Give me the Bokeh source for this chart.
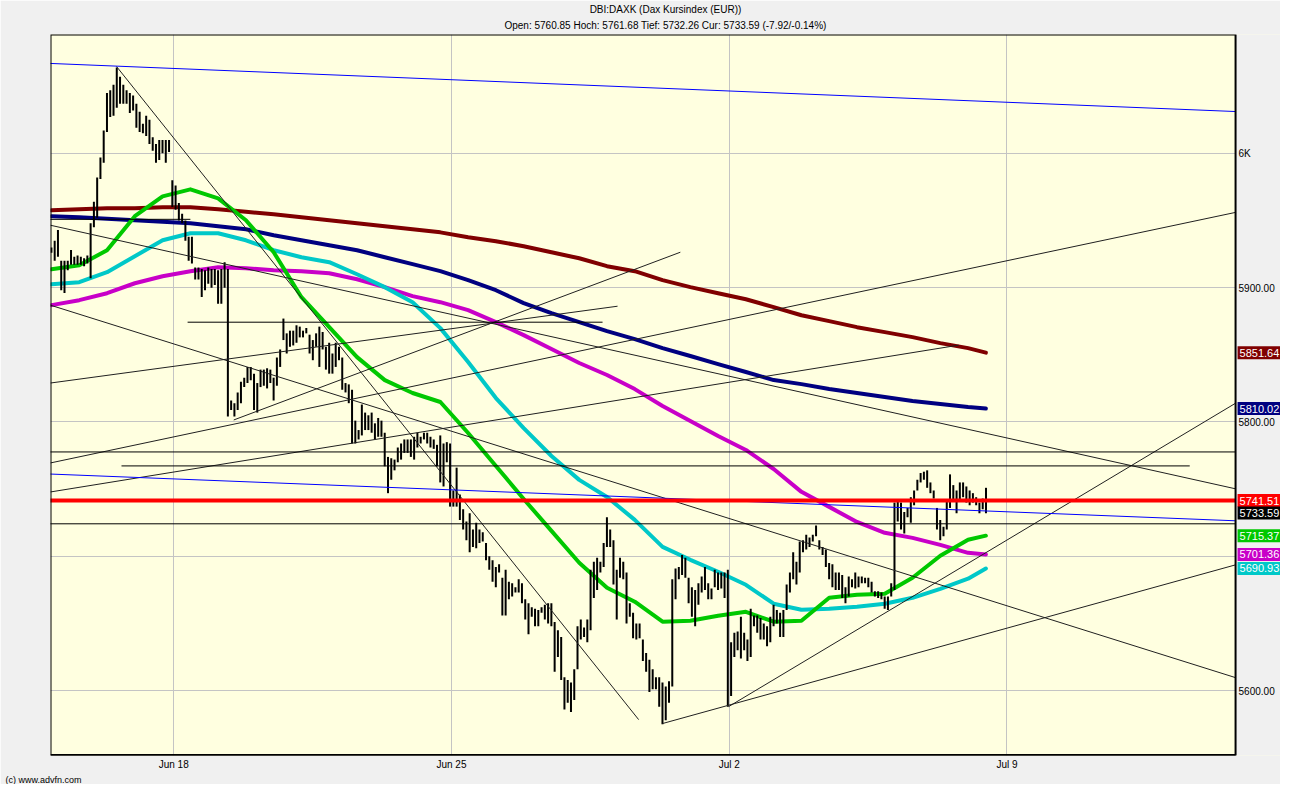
from bokeh.plotting import figure
from bokeh.models import Range1d, FixedTicker, ColumnDataSource, Title
from bokeh.core.properties import value
from bokeh.embed import file_html
from bokeh.resources import INLINE

FONT = "Liberation Sans"

# ---------------- texts ----------------
title_line_1 = "DBI:DAXK (Dax Kursindex (EUR))"
title_line_2 = "Open: 5760.85 Hoch: 5761.68 Tief: 5732.26 Cur: 5733.59 (-7.92/-0.14%)"
footer_text = "(c) www.advfn.com"

# x axis = trading days, 0 = Mon Jun 18 2012
date_ticks = [0, 5, 10, 15]
date_labels = ["Jun 18", "Jun 25", "Jul 2", "Jul 9"]
price_ticks = [5600, 5700, 5800, 5900, 6000]
price_labels = ["5600.00", "5700.00", "5800.00", "5900.00", "6K"]

# ---------------- 30-minute bars (17 per session) ----------------
bars_per_day = 17
session_day = [-3, -2, -1, 0, 1, 2, 3, 4, 5, 6, 7, 8, 9, 10, 11, 12, 13, 14]
session_first_slot = [14, 0, 0, 0, 0, 0, 0, 0, 0, 0, 0, 0, 0, 0, 0, 0, 0, 0]

bar_high = [
    [5930, 5935, 5943],
    [5920, 5920, 5920, 5928, 5923, 5924, 5923, 5922, 5924, 5948, 5964, 5982, 5997, 6017, 6045, 6047, 6051],
    [6064, 6057, 6051, 6047, 6045, 6043, 6037, 6031, 6022, 6028, 6025, 6012, 6007, 6010, 6010, 6010, 6010],
    [5980, 5976, 5963, 5955, 5950, 5938, 5938, 5915, 5915, 5914, 5913, 5915, 5914, 5914, 5913, 5914, 5919],
    [5914, 5816, 5814, 5822, 5830, 5833, 5841, 5841, 5836, 5829, 5839, 5839, 5840, 5839, 5833, 5848, 5854],
    [5877, 5866, 5868, 5868, 5872, 5871, 5868, 5870, 5865, 5861, 5866, 5871, 5867, 5856, 5859, 5851, 5859],
    [5856, 5848, 5829, 5828, 5824, 5801, 5794, 5813, 5807, 5805, 5807, 5799, 5803, 5801, 5792, 5774, 5773],
    [5772, 5781, 5784, 5787, 5787, 5787, 5789, 5792, 5789, 5792, 5792, 5789, 5787, 5783, 5790, 5784, 5785],
    [5784, 5749, 5766, 5746, 5735, 5726, 5732, 5720, 5725, 5720, 5718, 5710, 5700, 5697, 5692, 5694, 5684],
    [5690, 5681, 5680, 5677, 5683, 5680, 5668, 5665, 5662, 5661, 5660, 5662, 5664, 5665, 5665, 5651, 5645],
    [5640, 5610, 5608, 5606, 5616, 5648, 5653, 5647, 5653, 5690, 5696, 5699, 5696, 5710, 5729, 5720, 5712],
    [5690, 5699, 5696, 5688, 5665, 5658, 5650, 5650, 5638, 5628, 5623, 5616, 5610, 5610, 5606, 5603, 5607],
    [5683, 5691, 5692, 5701, 5699, 5684, 5677, 5675, 5680, 5685, 5692, 5680, 5676, 5690, 5688, 5688, 5688],
    [5690, 5636, 5643, 5644, 5655, 5643, 5638, 5661, 5656, 5656, 5654, 5650, 5648, 5655, 5664, 5660, 5658],
    [5660, 5679, 5688, 5703, 5696, 5711, 5712, 5716, 5714, 5716, 5723, 5712, 5707, 5705, 5695, 5694, 5688],
    [5688, 5686, 5677, 5685, 5683, 5688, 5685, 5685, 5684, 5684, 5681, 5674, 5674, 5673, 5670, 5670, 5680],
    [5740, 5742, 5740, 5733, 5736, 5744, 5749, 5757, 5762, 5763, 5764, 5755, 5749, 5736, 5727, 5722, 5741],
    [5761, 5753, 5749, 5755, 5755, 5752, 5749, 5747, 5744, 5740, 5743, 5751],
]
bar_low = [
    [5926, 5920, 5923],
    [5898, 5896, 5913, 5917, 5917, 5917, 5917, 5916, 5918, 5907, 5945, 5952, 5981, 5993, 6016, 6027, 6028],
    [6034, 6037, 6037, 6037, 6030, 6032, 6019, 6016, 6015, 6013, 6007, 6002, 5993, 5995, 6000, 5993, 6001],
    [5960, 5958, 5950, 5948, 5935, 5920, 5918, 5906, 5906, 5893, 5898, 5903, 5900, 5902, 5888, 5888, 5900],
    [5804, 5809, 5804, 5809, 5814, 5826, 5829, 5831, 5809, 5807, 5826, 5827, 5825, 5829, 5816, 5827, 5841],
    [5861, 5851, 5856, 5857, 5859, 5863, 5863, 5866, 5851, 5846, 5856, 5841, 5854, 5839, 5836, 5836, 5841],
    [5846, 5824, 5822, 5814, 5784, 5784, 5787, 5790, 5794, 5794, 5792, 5787, 5789, 5789, 5767, 5747, 5757],
    [5764, 5770, 5772, 5777, 5777, 5774, 5772, 5781, 5784, 5787, 5784, 5781, 5780, 5767, 5755, 5752, 5770],
    [5737, 5737, 5737, 5727, 5720, 5712, 5703, 5707, 5706, 5710, 5711, 5697, 5690, 5681, 5677, 5688, 5656],
    [5656, 5668, 5670, 5673, 5673, 5665, 5653, 5642, 5655, 5648, 5648, 5658, 5653, 5650, 5648, 5614, 5625],
    [5608, 5586, 5591, 5584, 5593, 5616, 5638, 5640, 5636, 5645, 5669, 5675, 5688, 5692, 5707, 5707, 5679],
    [5653, 5684, 5683, 5650, 5655, 5639, 5638, 5639, 5622, 5614, 5599, 5601, 5601, 5588, 5575, 5578, 5591],
    [5603, 5668, 5683, 5686, 5684, 5665, 5655, 5648, 5664, 5673, 5675, 5668, 5668, 5677, 5675, 5676, 5669],
    [5588, 5596, 5625, 5630, 5624, 5630, 5622, 5625, 5648, 5643, 5638, 5638, 5633, 5636, 5648, 5650, 5640],
    [5640, 5660, 5673, 5683, 5679, 5688, 5703, 5705, 5707, 5711, 5715, 5705, 5701, 5692, 5683, 5677, 5675],
    [5675, 5669, 5665, 5670, 5677, 5676, 5677, 5680, 5680, 5677, 5673, 5670, 5669, 5668, 5661, 5660, 5670],
    [5675, 5726, 5720, 5717, 5729, 5725, 5738, 5749, 5755, 5757, 5751, 5747, 5743, 5720, 5712, 5715, 5720],
    [5736, 5741, 5732, 5742, 5744, 5740, 5738, 5740, 5738, 5732, 5735, 5732],
]

# ---------------- moving averages (sampled along the time axis) ----------------
ma_t = [-2.2, -1.7, -1.2, -0.7, -0.2, 0.3, 0.8, 1.3, 1.8, 2.3, 2.8, 3.3, 3.8, 4.3, 4.8, 5.3, 5.8,
        6.3, 6.8, 7.3, 7.8, 8.3, 8.8, 9.3, 9.8, 10.3, 10.8, 11.3, 11.8, 12.3, 12.8, 13.3, 13.8, 14.3, 14.62]
ma_green = [5913.7, 5916.7, 5927.9, 5953.2, 5968.0, 5973.2, 5966.5, 5950.2, 5926.4, 5892.9, 5870.6, 5848.3,
            5831.2, 5821.6, 5814.9, 5791.8, 5767.3, 5742.7, 5718.9, 5695.2, 5676.6, 5666.2, 5651.3, 5652.0,
            5655.8, 5658.7, 5651.3, 5652.0, 5669.1, 5671.4, 5672.1, 5684.0, 5700.4, 5712.3, 5715.37]
ma_cyan = [5902.6, 5904.1, 5911.5, 5923.4, 5935.3, 5940.5, 5940.5, 5935.3, 5927.9, 5922.7, 5919.0, 5910.0,
           5900.4, 5889.2, 5869.9, 5844.6, 5817.8, 5795.5, 5774.7, 5756.9, 5744.2, 5727.1, 5707.0, 5697.4,
           5688.5, 5678.8, 5664.7, 5660.2, 5661.0, 5662.5, 5664.7, 5669.1, 5675.8, 5683.3, 5690.93]
ma_magenta = [5887.0, 5890.7, 5895.9, 5903.3, 5908.5, 5912.3, 5915.2, 5914.5, 5913.0, 5912.3, 5910.8, 5906.3,
              5900.4, 5893.7, 5889.2, 5883.3, 5874.4, 5864.7, 5854.3, 5843.9, 5835.0, 5824.5, 5811.9, 5800.7,
              5789.6, 5779.2, 5765.0, 5748.0, 5736.8, 5725.6, 5717.5, 5713.7, 5708.5, 5702.6, 5701.36]
ma_navy = [5953.2, 5952.4, 5951.3, 5950.2, 5949.1, 5948.0, 5945.7, 5943.5, 5939.0, 5935.3, 5931.6, 5927.9,
           5922.7, 5917.5, 5912.3, 5905.6, 5898.1, 5888.5, 5881.0, 5874.4, 5867.6, 5861.7, 5855.0, 5849.1,
           5843.1, 5837.2, 5831.2, 5828.2, 5824.5, 5821.6, 5818.6, 5815.6, 5813.4, 5811.1, 5810.02]
ma_darkred = [5957.6, 5958.4, 5959.1, 5959.1, 5959.8, 5959.8, 5958.4, 5956.5, 5954.6, 5952.4, 5950.2, 5948.0,
              5945.7, 5943.5, 5941.2, 5937.5, 5934.6, 5930.9, 5926.4, 5921.9, 5916.0, 5912.3, 5905.6, 5900.4,
              5895.9, 5891.4, 5885.5, 5879.5, 5875.1, 5870.6, 5866.9, 5863.2, 5858.7, 5855.0, 5851.64]

# ---------------- drawn studies: (day0, price0, day1, price1) ----------------
blue_lines = [(-2.25, 6067.0, 19.2, 6031.0), (-2.25, 5761.3, 19.2, 5726.3)]
level_lines = [(-2.25, 5777.7, 19.2, 5777.7), (-0.94, 5767.3, 18.29, 5767.3), (-2.25, 5724.2, 19.2, 5724.2),
               (0.25, 5874.3, 7.72, 5874.3), (-2.25, 5950.9, 0.30, 5950.9)]
trend_lines = [(-1.03, 6064.7, 8.37, 5578.4), (-2.22, 5946.5, 19.12, 5750.2), (-2.22, 5887.0, 19.12, 5609.6),
               (-2.22, 5829.0, 7.99, 5886.2), (-2.22, 5769.5, 19.12, 5956.1), (-2.22, 5747.9, 14.13, 5857.2),
               (1.08, 5801.5, 9.12, 5926.4), (8.80, 5575.5, 19.12, 5693.7), (9.99, 5588.1, 19.12, 5814.1)]
resistance_level = 5741.51

# right-hand value boxes: (value, colour)
value_boxes = [(5851.64, "#800000"), (5810.02, "#000080"), (5741.51, "#FF0000"), (5733.59, "#000000"),
               (5715.37, "#00C800"), (5701.36, "#C800C8"), (5690.93, "#00C8C8")]

# ---------------- figure ----------------
X0, X1 = -2.218, 19.924        # frame: chart area + value column on the right
AREA_END = 19.115              # right edge of the yellow chart area
Y1 = 6088.5
PX_Y = 1.345                   # pixels per index point
FRAME_W, FRAME_H = 1230, 722
Y0 = Y1 - FRAME_H / PX_Y
PX_X = FRAME_W / (X1 - X0)

p = figure(width=1280, height=784, output_backend="svg", toolbar_location=None,
           x_range=Range1d(X0, X1), y_range=Range1d(Y0, Y1), y_axis_location=None,
           min_border_left=50, min_border_right=0, min_border_top=34, min_border_bottom=28,
           background_fill_color="#FFFFE0", border_fill_color="#F0F0F0", title=None)
p.outline_line_color = None

p.xaxis.ticker = FixedTicker(ticks=date_ticks)
p.xaxis.major_label_overrides = {t: l for t, l in zip(date_ticks, date_labels)}
ax = p.xaxis[0]
ax.axis_line_color = None
ax.major_tick_line_color = None
ax.minor_tick_line_color = None
ax.major_tick_out = 0
ax.major_tick_in = 0
ax.major_label_text_font = FONT
ax.major_label_text_font_size = "10px"
ax.major_label_text_color = "#000000"
ax.major_label_standoff = 3
p.ygrid.ticker = FixedTicker(ticks=price_ticks)
for g in (p.xgrid[0], p.ygrid[0]):
    g.grid_line_color = "#C4C4C4"
    g.grid_line_width = 1

# titles (first added sits next to the frame) and footer
p.add_layout(Title(text=title_line_2, align="center", offset=-17, standoff=7, text_font=FONT,
                   text_font_size="10px", text_font_style="normal", text_color="black"), "above")
p.add_layout(Title(text=title_line_1, align="center", offset=-17, standoff=0, text_font=FONT,
                   text_font_size="10px", text_font_style="normal", text_color="black"), "above")
p.add_layout(Title(text=footer_text, align="left", offset=-45, standoff=0, text_font=FONT,
                   text_font_size="9px", text_font_style="normal", text_color="black"), "below")

# moving averages
for vals, col in [(ma_darkred, "#800000"), (ma_navy, "#000080"), (ma_magenta, "#C800C8"),
                  (ma_cyan, "#00C8C8"), (ma_green, "#00C800")]:
    p.line(ma_t, vals, line_color=col, line_width=4, line_join="round", line_cap="round")

# bars
bx, bh, bl = [], [], []
for day, slot0, hs, ls in zip(session_day, session_first_slot, bar_high, bar_low):
    for k, (h, l) in enumerate(zip(hs, ls)):
        bx.append(day + (slot0 + k) / bars_per_day - 0.025)
        bh.append(h)
        bl.append(l)
p.segment(x0=bx, y0=bl, x1=bx, y1=bh, line_color="black", line_width=2)

# drawn studies
def seg_source(items):
    return ColumnDataSource(dict(x0=[a[0] for a in items], y0=[a[1] for a in items],
                                 x1=[a[2] for a in items], y1=[a[3] for a in items]))

p.segment("x0", "y0", "x1", "y1", source=seg_source(trend_lines), line_color="#202020", line_width=1)
p.segment("x0", "y0", "x1", "y1", source=seg_source(level_lines), line_color="#000000", line_width=1)
p.segment("x0", "y0", "x1", "y1", source=seg_source(blue_lines), line_color="#0000FF", line_width=1)
p.segment(x0=[X0 - 1], y0=[resistance_level], x1=[X1 + 1], y1=[resistance_level],
          line_color="#FF0000", line_width=4)

# value column (grey) and chart-area border
p.quad(left=[AREA_END], right=[X1 + 1], bottom=[Y0 - 50], top=[Y1 + 50],
       fill_color="#F0F0F0", line_color=None)
p.quad(left=[X0], right=[AREA_END], bottom=[Y0], top=[Y1],
       fill_color=None, line_color="black", line_width=2)
p.segment(x0=[X0], y0=[Y0], x1=[AREA_END], y1=[Y0], line_color="black", line_width=3)

# price scale labels
p.text(x=[AREA_END + 3 / PX_X] * len(price_ticks), y=price_ticks, text=price_labels,
       text_font=value(FONT), text_font_size="10px", text_color="black",
       text_align="left", text_baseline="middle")

# value boxes, pushed apart when they would overlap
bx_y, bx_col, bx_txt = [], [], []
last_py = None
for val, col in sorted(value_boxes, key=lambda v: -v[0]):
    py = (Y1 - val) * PX_Y
    if last_py is not None and py < last_py + 12.5:
        py = last_py + 12.5
    last_py = py
    bx_y.append(Y1 - py / PX_Y)
    bx_col.append(col)
    bx_txt.append(f"{val:.2f}")
box_left = AREA_END + 2 / PX_X
p.rect(x=[box_left + 30 / PX_X] * len(bx_y), y=bx_y, width=60, height=13,
       width_units="screen", height_units="screen", fill_color=bx_col, line_color=None)
p.text(x=[box_left + 2 / PX_X] * len(bx_y), y=bx_y, text=bx_txt, text_font=value(FONT),
       text_font_size="11px", text_color="white", text_align="left", text_baseline="middle")

open("out.html", "w").write(file_html(p, INLINE))
